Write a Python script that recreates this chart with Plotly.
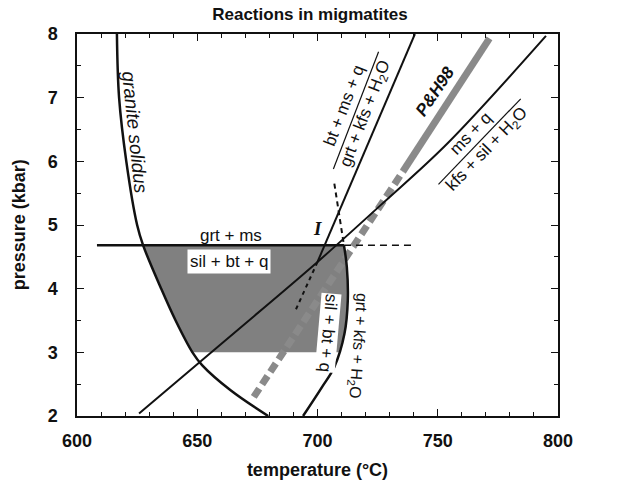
import numpy as np
import plotly.graph_objects as go

# ---------------- data ----------------
# granite solidus
solidus_T = [616.6, 617.5, 620.5, 625.0, 627.5, 635.0, 641.0, 648.0, 652.0, 664.0, 679.5]
solidus_P = [8.0, 7.0, 6.0, 5.0, 4.68, 4.0, 3.5, 3.0, 2.8, 2.4, 2.0]

# sil + bt + q = grt + kfs + H2O  (lower steep curve)
steep_T = [711.0, 712.2, 712.6, 711.2, 707.0, 701.8, 694.0]
steep_P = [4.68, 4.34, 3.82, 3.29, 2.77, 2.45, 2.0]

# metastable extension of the steep curve above I (dashed)
steep_ext_T = [707.0, 711.0]
steep_ext_P = [5.65, 4.68]

# grt + ms = sil + bt + q (horizontal reaction)
hz_P = 4.68
hz_T_start = 608.3
hz_T_dash_end = 739.0

# ms + q = kfs + sil + H2O
msq_T = [625.8, 663.0, 700.0, 726.5, 754.0, 795.0]
msq_P = [2.04, 3.23, 4.42, 5.32, 6.28, 7.97]

# bt + ms + q = grt + kfs + H2O
bt_T = [700.0, 740.5]
bt_P = [4.42, 8.0]
bt_ext_T = [700.0, 690.5]
bt_ext_P = [4.42, 3.63]

# P&H98 curve
ph_dash_T = [673.5, 735.5]
ph_dash_P = [2.30, 5.84]
ph_solid_T = [735.5, 771.5]
ph_solid_P = [5.84, 7.93]

# shaded field limits
grey_P_top = 4.68
grey_P_bottom = 3.0

x_ticks = [600, 650, 700, 750, 800]
y_ticks = [2, 3, 4, 5, 6, 7, 8]

# ---------------- figure ----------------
FONT = "Liberation Sans"
fig = go.Figure()

# grey field: bounded by solidus (left), steep curve (right), horizontal top, P=3 bottom
sp = np.array(solidus_P)[::-1]
st = np.array(solidus_T)[::-1]
kp = np.array(steep_P)[::-1]
kt = np.array(steep_T)[::-1]
Pgrid = np.linspace(grey_P_bottom, grey_P_top, 30)
left_T = np.interp(Pgrid, sp, st)
right_T = np.interp(Pgrid, kp, kt)
poly_T = np.concatenate([left_T, right_T[::-1], [left_T[0]]])
poly_P = np.concatenate([Pgrid, Pgrid[::-1], [Pgrid[0]]])
fig.add_trace(go.Scatter(x=poly_T, y=poly_P, fill="toself", fillcolor="#808080",
                         line=dict(width=0), mode="lines", hoverinfo="skip"))

# P&H98
fig.add_trace(go.Scatter(x=ph_dash_T, y=ph_dash_P, mode="lines",
                         line=dict(color="#8a8a8a", width=7, dash="10px,5px")))
fig.add_trace(go.Scatter(x=ph_solid_T, y=ph_solid_P, mode="lines",
                         line=dict(color="#8a8a8a", width=7)))

black = "#111111"
fig.add_trace(go.Scatter(x=solidus_T, y=solidus_P, mode="lines", line_shape="spline",
                         line=dict(color=black, width=2.5)))
fig.add_trace(go.Scatter(x=steep_T, y=steep_P, mode="lines", line_shape="spline",
                         line=dict(color=black, width=2.5)))
fig.add_trace(go.Scatter(x=steep_ext_T, y=steep_ext_P, mode="lines",
                         line=dict(color=black, width=2, dash="5px,4px")))
fig.add_trace(go.Scatter(x=[hz_T_start, steep_T[0]], y=[hz_P, hz_P], mode="lines",
                         line=dict(color=black, width=2.5)))
fig.add_trace(go.Scatter(x=[steep_T[0], hz_T_dash_end], y=[hz_P, hz_P], mode="lines",
                         line=dict(color=black, width=1.5, dash="7px,5px")))
fig.add_trace(go.Scatter(x=msq_T, y=msq_P, mode="lines", line_shape="spline",
                         line=dict(color=black, width=2)))
fig.add_trace(go.Scatter(x=bt_T, y=bt_P, mode="lines",
                         line=dict(color=black, width=2)))
fig.add_trace(go.Scatter(x=bt_ext_T, y=bt_ext_P, mode="lines",
                         line=dict(color=black, width=2, dash="4px,4px")))

ann_font = dict(family=FONT, size=17, color=black)
annotations = [
    dict(x=624.0, y=6.45, text="<i>granite solidus</i>", textangle=84,
         font=dict(family=FONT, size=19, color=black)),
    dict(x=664.0, y=4.84, text="grt + ms", textangle=0),
    dict(x=663.0, y=4.43, text="sil + bt + q", textangle=0, bgcolor="white",
         borderpad=2),
    dict(x=704.5, y=3.30, text="sil + bt + q", textangle=95, bgcolor="white",
         borderpad=0),
    dict(x=716.5, y=3.10, text="grt + kfs + H<sub>2</sub>O", textangle=94,
         font=dict(family=FONT, size=16, color=black)),
    dict(x=716.0, y=6.80, text="bt + ms + q<br>grt + kfs + H<sub>2</sub>O", textangle=-69),
    dict(x=767.4, y=6.31, text="ms + q<br>kfs + sil + H<sub>2</sub>O", textangle=-46),
    dict(x=749.0, y=7.09, text="<b><i>P&amp;H98</i></b>", textangle=-56,
         font=dict(family=FONT, size=17, color=black)),
    dict(x=700.0, y=4.94, text="<b><i>I</i></b>", textangle=0,
         font=dict(family="Liberation Serif", size=19, color=black)),
]
for a in annotations:
    a.setdefault("font", ann_font)
    a.update(xref="x", yref="y", showarrow=False)

# y-axis title placed as paper annotation
annotations.append(dict(xref="paper", yref="paper", x=-0.12, y=0.5, showarrow=False,
                        text="<b>pressure (kbar)</b>", textangle=-90,
                        xanchor="center", yanchor="middle",
                        font=dict(family=FONT, size=18, color=black)))

shapes = [
    dict(type="line", xref="x", yref="y", x0=706.6, y0=5.88, x1=725.4, y1=7.72,
         line=dict(color=black, width=1.2)),
    dict(type="line", xref="x", yref="y", x0=750.3, y0=5.638, x1=784.5, y1=6.982,
         line=dict(color=black, width=1.2)),
]

axis_common = dict(
    showgrid=False, zeroline=False, showline=True, linecolor=black, linewidth=1.5,
    mirror="ticks", ticks="inside", ticklen=7, tickwidth=1.2, tickcolor=black,
    tickfont=dict(family=FONT, size=18, color=black, weight="bold"),
    automargin=False,
)
fig.update_layout(
    width=620, height=480,
    margin=dict(l=77, r=62, t=34, b=64),
    plot_bgcolor="white", paper_bgcolor="white",
    showlegend=False,
    title=dict(text="<b>Reactions in migmatites</b>", x=0.5, xanchor="center",
               y=0.97, yanchor="middle",
               font=dict(family=FONT, size=17, color=black)),
    xaxis=dict(range=[600, 800], tickvals=x_ticks, ticklabelstandoff=8,
               minor=dict(dtick=10, ticks="inside", ticklen=4, tickcolor=black, tickwidth=1),
               title=dict(text="<b>temperature (°C)</b>", standoff=14,
                          font=dict(family=FONT, size=18, color=black)),
               **axis_common),
    yaxis=dict(range=[2, 8], tickvals=y_ticks, ticklabelstandoff=14,
               minor=dict(dtick=0.5, ticks="inside", ticklen=4, tickcolor=black, tickwidth=1),
               **axis_common),
    annotations=annotations,
    shapes=shapes,
)
fig.write_html("out.html", config={"displayModeBar": False},
               post_script="document.body.style.margin='0';")
